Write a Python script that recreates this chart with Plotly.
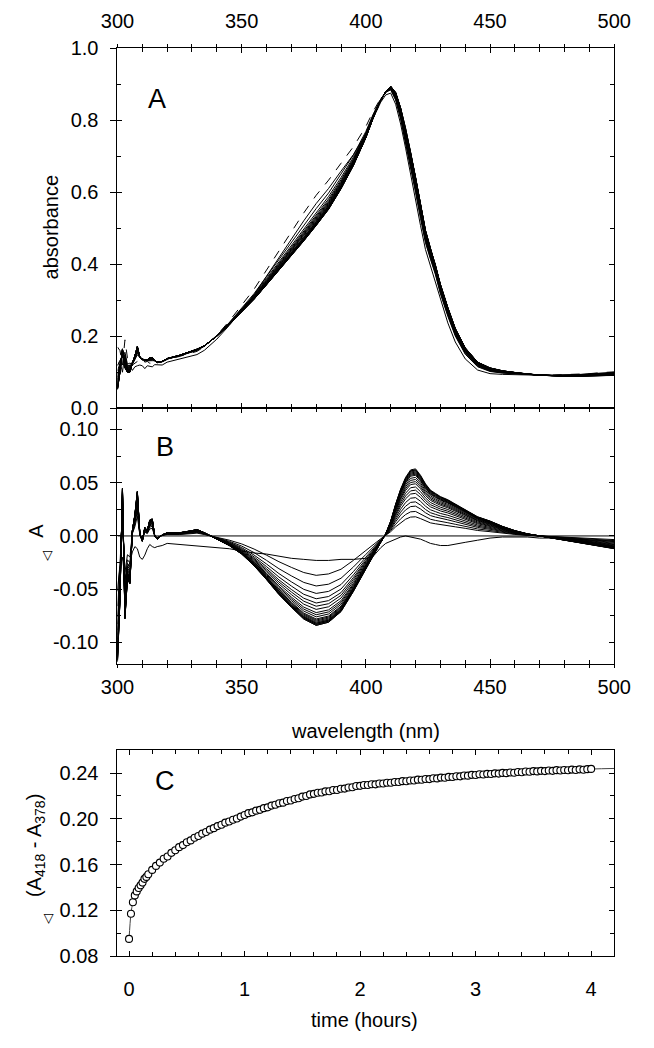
import plotly.graph_objects as go

# wavelength grid (nm) used for panels A and B
wl = [300, 301, 302, 303, 304, 305, 306, 307, 308, 309, 310, 311, 312, 313, 314, 315, 316,
      318, 320,
      325, 330, 332, 335, 340, 345, 350, 355, 360, 365, 370, 375, 380, 385, 390, 395, 400,
      403, 406, 408, 410, 412, 414, 416, 418, 420, 422, 424, 426, 428, 430,
      433, 436, 440, 445, 450, 455, 460, 465, 470, 475, 480, 485, 490, 495, 500]

# starting spectrum that the difference spectra are added to
abs_start = [0.170, 0.160, 0.120, 0.190, 0.140, 0.145, 0.120, 0.125, 0.130, 0.140, 0.140, 0.128, 0.130, 0.125, 0.125, 0.132, 0.130,
             0.129, 0.135,
             0.144, 0.153, 0.158, 0.171, 0.203, 0.242, 0.285, 0.331, 0.384, 0.438, 0.490, 0.543, 0.592, 0.634, 0.681, 0.727, 0.783,
             0.826, 0.862, 0.878, 0.881, 0.848, 0.791, 0.723, 0.650, 0.582, 0.511, 0.446, 0.402, 0.360, 0.308,
             0.246, 0.192, 0.143, 0.110, 0.098, 0.095, 0.094, 0.093, 0.092, 0.092, 0.093, 0.095, 0.098, 0.100, 0.103]

# dashed spectrum in A
abs_dashed = [0.170, 0.160, 0.120, 0.190, 0.140, 0.145, 0.120, 0.125, 0.130, 0.140, 0.140, 0.128, 0.130, 0.125, 0.125, 0.132, 0.130,
              0.129, 0.135,
              0.144, 0.153, 0.158, 0.171, 0.203, 0.242, 0.285, 0.331, 0.384, 0.438, 0.490, 0.543, 0.592, 0.634, 0.681, 0.727, 0.783,
              0.826, 0.862, 0.878, 0.888, 0.863, 0.813, 0.751, 0.681, 0.614, 0.540, 0.471, 0.424, 0.380, 0.327,
              0.263, 0.207, 0.156, 0.119, 0.105, 0.100, 0.097, 0.094, 0.092, 0.092, 0.093, 0.094, 0.096, 0.099, 0.101]

# final difference spectrum (largest curve in B)
dA_final = [-0.118, -0.060, 0.045, -0.078, -0.040, -0.045, 0.005, 0.020, 0.042, 0.002, -0.005, 0.008, 0.005, 0.015, 0.016, 0.000, -0.003,
            0.001, 0.003,
            0.003, 0.005, 0.006, 0.003, -0.003, -0.009, -0.017, -0.028, -0.041, -0.055, -0.067, -0.078, -0.084, -0.081, -0.071, -0.052, -0.031,
            -0.018, -0.006, 0.002, 0.014, 0.030, 0.044, 0.055, 0.062, 0.063, 0.057, 0.049, 0.043, 0.040, 0.037,
            0.034, 0.030, 0.025, 0.018, 0.014, 0.009, 0.005, 0.002, 0.000, -0.002, -0.004, -0.006, -0.008, -0.010, -0.012]

# first difference spectrum (flat one in B)
dA_first = [-0.050, -0.030, -0.020, -0.040, -0.030, -0.025, -0.015, -0.010, -0.012, -0.020, -0.022, -0.018, -0.012, -0.008, -0.010, -0.011, -0.010,
            -0.009, -0.007,
            -0.008, -0.009, -0.009, -0.010, -0.011, -0.012, -0.014, -0.016, -0.017, -0.019, -0.021, -0.022, -0.023, -0.023, -0.022, -0.022, -0.021,
            -0.019, -0.011, -0.007, -0.005, -0.003, -0.001, 0.000, -0.001, -0.002, -0.003, -0.005, -0.007, -0.008, -0.009,
            -0.009, -0.008, -0.006, -0.004, -0.002, -0.001, -0.001, -0.001, -0.002, -0.002, -0.003, -0.003, -0.004, -0.004, -0.005]

# depth of the 380 nm trough and height of the 419 nm peak for each later curve
trough_380 = [0.037, 0.047, 0.054, 0.059, 0.063, 0.066, 0.069, 0.072, 0.074, 0.076,
              0.078, 0.079, 0.080, 0.081, 0.082, 0.082, 0.083, 0.083, 0.084, 0.084]
peak_419 = [0.018, 0.023, 0.028, 0.032, 0.036, 0.040, 0.043, 0.046, 0.049, 0.051,
            0.053, 0.055, 0.057, 0.058, 0.059, 0.060, 0.061, 0.062, 0.062, 0.063]
final_trough = 0.084
final_peak = 0.063

# panel C: time (minutes) and absorbance difference
c_min_early = [0, 1, 2, 3, 4, 5, 6, 7, 8, 9]
c_val_early = [0.0950, 0.1170, 0.1270, 0.1330, 0.1365, 0.1395, 0.1418, 0.1442, 0.1475, 0.1492]
c_val_late = [0.1515, 0.1553, 0.1588, 0.1617, 0.1650, 0.1670, 0.1702, 0.1725, 0.1752, 0.1770,
              0.1795, 0.1811, 0.1834, 0.1849, 0.1870, 0.1885, 0.1905, 0.1918, 0.1936, 0.1948,
              0.1966, 0.1976, 0.1992, 0.2002, 0.2019, 0.2033, 0.2049, 0.2056, 0.2071, 0.2078,
              0.2093, 0.2100, 0.2115, 0.2122, 0.2136, 0.2141, 0.2155, 0.2160, 0.2173, 0.2180,
              0.2194, 0.2199, 0.2213, 0.2218, 0.2228, 0.2230, 0.2240, 0.2241, 0.2251, 0.2252,
              0.2262, 0.2264, 0.2274, 0.2276, 0.2286, 0.2288, 0.2295, 0.2295, 0.2302, 0.2301,
              0.2309, 0.2308, 0.2315, 0.2315, 0.2322, 0.2321, 0.2329, 0.2328, 0.2335, 0.2335,
              0.2342, 0.2341, 0.2348, 0.2347, 0.2354, 0.2353, 0.2360, 0.2359, 0.2366, 0.2365,
              0.2372, 0.2371, 0.2378, 0.2377, 0.2384, 0.2383, 0.2389, 0.2387, 0.2393, 0.2391,
              0.2397, 0.2395, 0.2401, 0.2399, 0.2405, 0.2403, 0.2409, 0.2407, 0.2413, 0.2411,
              0.2417, 0.2414, 0.2419, 0.2417, 0.2422, 0.2419, 0.2425, 0.2422, 0.2427, 0.2424,
              0.2430, 0.2427, 0.2432, 0.2429, 0.2434, 0.2436]
c_min_late = list(range(10, 10 + 2 * len(c_val_late), 2))

# fitted curve in C (hours, value)
fit_h = [0, 0.0167, 0.033, 0.05, 0.083, 0.133, 0.2, 0.3, 0.4, 0.5, 0.65, 0.8, 1.0, 1.25, 1.5, 1.75, 2.0, 2.5, 3.0, 3.5, 4.0, 4.2]
fit_v = [0.095, 0.117, 0.127, 0.133, 0.1395, 0.1478, 0.1555, 0.1648, 0.1727, 0.1793, 0.1878, 0.1950, 0.2035, 0.2118,
         0.2192, 0.2246, 0.2290, 0.2340, 0.2385, 0.2415, 0.2435, 0.2440]

W, H = 654, 1048
FONT = "Arial, Liberation Sans, sans-serif"


def px(x):
    return x / W


def py(y):
    return 1 - y / H


fig = go.Figure()

# ---- panel A / B spectra ----
diffs = [dA_first]
for tr, pk in zip(trough_380, peak_419):
    diffs.append([d * (tr / final_trough if w <= 407 else pk / final_peak) for w, d in zip(wl, dA_final)])

line = dict(color="black", width=1)
for d in diffs:
    fig.add_trace(go.Scatter(x=wl, y=[a + b for a, b in zip(abs_start, d)], mode="lines",
                             line=line, xaxis="x", yaxis="y", hoverinfo="skip"))
fig.add_trace(go.Scatter(x=wl, y=abs_dashed, mode="lines", line=dict(color="black", width=1, dash="dash"),
                         xaxis="x", yaxis="y"))
for d in diffs:
    fig.add_trace(go.Scatter(x=wl, y=d, mode="lines", line=line, xaxis="x2", yaxis="y2", hoverinfo="skip"))

# ---- panel C kinetics ----
c_hours = [m / 60 for m in c_min_early + c_min_late]
fig.add_trace(go.Scatter(x=fit_h, y=fit_v, mode="lines", line=dict(color="#444", width=1, shape="spline"),
                         xaxis="x3", yaxis="y3"))
fig.add_trace(go.Scatter(x=c_hours, y=c_val_early + c_val_late, mode="markers",
                         marker=dict(symbol="circle", size=7, color="white", line=dict(color="black", width=1.1)),
                         xaxis="x3", yaxis="y3"))

# empty traces so the overlay axes (outer half of the crossing ticks) get drawn
for xa, ya in [("x", "y4"), ("x5", "y"), ("x6", "y2"), ("x2", "y5"), ("x3", "y6")]:
    fig.add_trace(go.Scatter(x=[None], y=[None], xaxis=xa, yaxis=ya, hoverinfo="skip"))

tickfont = dict(family=FONT, size=20, color="black")
common = dict(showline=True, linecolor="black", linewidth=1, ticks="inside", ticklen=5,
              tickcolor="black", tickwidth=1, mirror="ticks", showgrid=False, zeroline=False,
              tickfont=tickfont)
outer = dict(showline=False, showgrid=False, zeroline=False, showticklabels=False,
             ticks="outside", tickcolor="black", tickwidth=1)
minor_in = dict(ticks="inside", ticklen=4, tickcolor="black")

xA = [106 / W, 630 / W]
dom_a = [py(405.7), py(38.3)]
dom_b = [py(666.7), py(405.7)]
dom_c = [py(965.3), py(755)]
b_major = [-0.10, -0.05, 0.0, 0.05, 0.10]
wl_ticks = list(range(300, 501, 10))

fig.update_layout(
    width=W, height=H, margin=dict(l=0, r=0, t=0, b=0),
    paper_bgcolor="white", plot_bgcolor="white", showlegend=False,
    xaxis=dict(domain=xA, anchor="y", side="top", range=[300, 500], dtick=50, tick0=300,
               ticklabelstandoff=11, minor=dict(dtick=10, **minor_in), **common),
    yaxis=dict(domain=dom_a, anchor="x", range=[0, 1.0], dtick=0.2, tickformat=".1f",
               ticklabelstandoff=14, minor=dict(dtick=0.1, **minor_in), **common),
    xaxis2=dict(domain=xA, anchor="y2", range=[300, 500], dtick=50, tick0=300,
                ticklabelstandoff=5, minor=dict(dtick=10, **minor_in), **common),
    yaxis2=dict(domain=dom_b, anchor="x2", range=[-0.12, 0.12],
                tickvals=b_major, ticktext=["-0.10", "-0.05", "0.00", "0.05", "0.10"],
                ticklabelstandoff=14,
                minor=dict(tickvals=[-0.075, -0.025, 0.025, 0.075], **minor_in), **common),
    xaxis3=dict(domain=xA, anchor="y3", range=[-0.1, 4.2], dtick=1, tick0=0,
                ticklabelstandoff=15, minor=dict(dtick=0.2, tick0=0, **minor_in), **common),
    yaxis3=dict(domain=dom_c, anchor="x3", range=[0.08, 0.26], dtick=0.04, tick0=0.08,
                tickformat=".2f", ticklabelstandoff=14,
                minor=dict(dtick=0.02, tick0=0.08, **minor_in), **common),
    # outer parts of crossing ticks
    yaxis4=dict(overlaying="y", anchor="x", side="left", range=[0, 1.0], dtick=0.2, ticklen=6, **outer),
    xaxis5=dict(overlaying="x", anchor="y", side="top", range=[300, 500], tickvals=wl_ticks, ticklen=3, **outer),
    xaxis6=dict(overlaying="x2", anchor="y2", side="bottom", range=[300, 500], tickvals=wl_ticks, ticklen=3, **outer),
    yaxis5=dict(overlaying="y2", anchor="x2", side="left", range=[-0.12, 0.12], tickvals=b_major, ticklen=6, **outer),
    yaxis6=dict(overlaying="y3", anchor="x3", side="left", range=[0.08, 0.26], dtick=0.04, tick0=0.08,
                ticklen=6, **outer),
)

# zero line in B
fig.add_shape(type="line", xref="x2", yref="y2", x0=300, x1=500, y0=0, y1=0,
              line=dict(color="black", width=1))


def note(text, x, y, size=20, angle=0):
    fig.add_annotation(text=text, x=px(x), y=py(y), xref="paper", yref="paper", showarrow=False,
                       xanchor="center", yanchor="middle", textangle=angle,
                       font=dict(family=FONT, size=size, color="black"))


note("absorbance", 36, 221, angle=-90)
note("A", 20, 531, angle=-90)
note("◁", 31, 556, size=13, angle=-90)
note("wavelength (nm)", 368, 735)
note("(A<sub>418</sub> - A<sub>378</sub>)", 19, 853, angle=-90)
note("◁", 32, 927, size=13, angle=-90)
note("time (hours)", 367, 1031)
note("A", 148, 90, size=27)
note("B", 156, 445, size=27)
note("C", 156, 787, size=27)

# page body has a default margin; drop it so the figure sits at the window corner
fig.write_html("out.html", config={"displayModeBar": False},
               post_script="document.body.style.margin='0';")
